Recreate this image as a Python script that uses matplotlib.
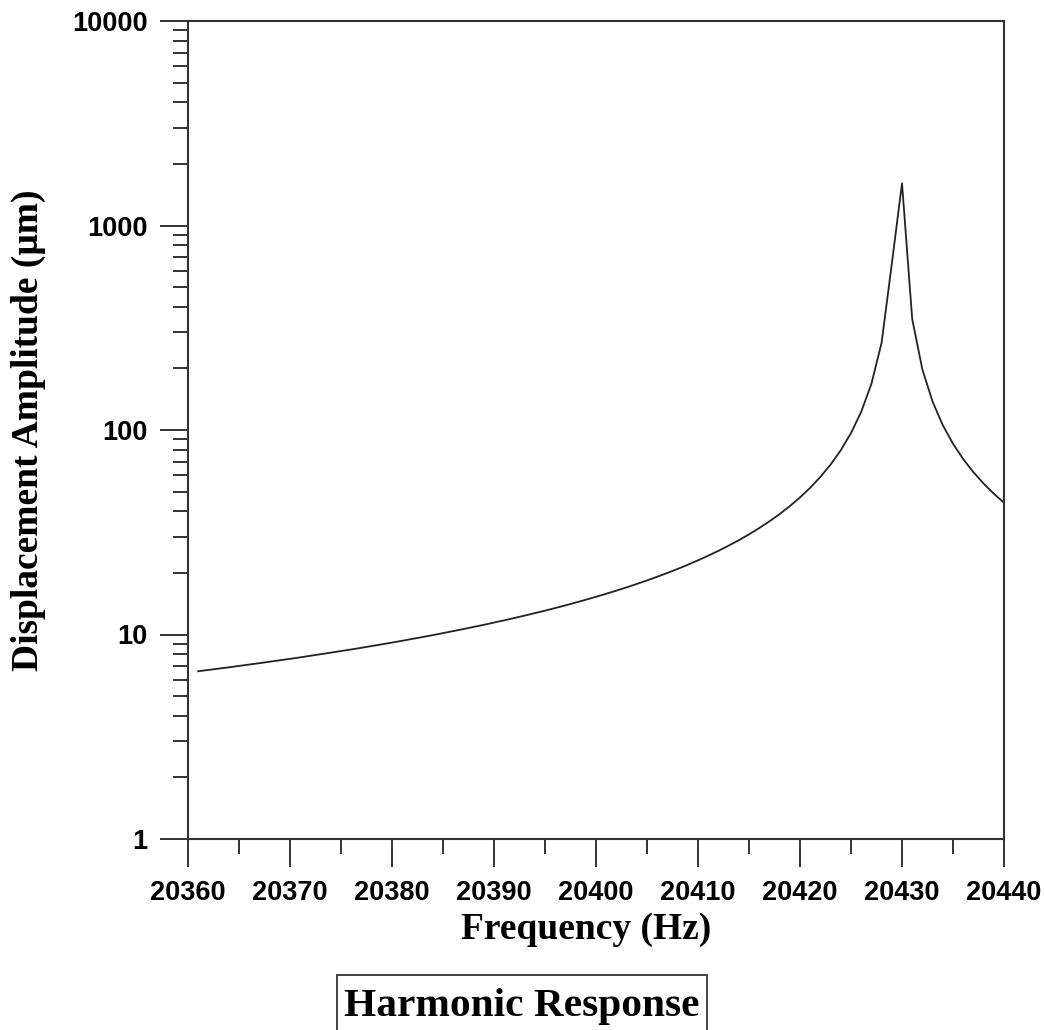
import matplotlib
matplotlib.use("Agg")
import matplotlib.pyplot as plt
from matplotlib.patches import Rectangle
from matplotlib.ticker import FixedLocator, MultipleLocator, LogLocator, NullFormatter

# Data (frequency in Hz, displacement amplitude in micrometres)
freq = list(range(20361, 20441))
amplitude = [
    6.61, 6.71, 6.81, 6.91, 7.02, 7.13, 7.24, 7.36, 7.48, 7.60,
    7.73, 7.87, 8.01, 8.15, 8.30, 8.45, 8.61, 8.78, 8.95, 9.13,
    9.32, 9.52, 9.72, 9.93, 10.16, 10.39, 10.63, 10.89, 11.15, 11.44,
    11.73, 12.04, 12.37, 12.72, 13.08, 13.47, 13.88, 14.32, 14.79, 15.29,
    15.82, 16.39, 17.00, 17.67, 18.38, 19.16, 20.00, 20.92, 21.93, 23.05,
    24.28, 25.65, 27.19, 28.92, 30.88, 33.14, 35.75, 38.80, 42.43, 46.80,
    52.18, 58.96, 67.76, 79.65, 96.60, 122.7, 168.1, 267.1, 648.6, 1608.0,
    349.2, 197.4, 137.6, 105.6, 85.66, 72.06, 62.19, 54.70, 48.82, 44.08,
]
x_ticks = [20360, 20370, 20380, 20390, 20400, 20410, 20420, 20430, 20440]
y_ticks = [1, 10, 100, 1000, 10000]
y_tick_labels = ["1", "10", "100", "1000", "10000"]
x_label = "Frequency (Hz)"
y_label = "Displacement Amplitude (\u03bcm)"
title = "Harmonic Response"

W, H = 1044, 1030
fig = plt.figure(figsize=(W / 100, H / 100), dpi=100)
fig.patch.set_facecolor("white")
ax = fig.add_axes([188 / W, 1 - 839 / H, (1004 - 188) / W, (839 - 21) / H])

ax.plot(freq, amplitude, color="#222222", linewidth=1.3)
ax.set_yscale("log")
ax.set_xlim(20360, 20440)
ax.set_ylim(1, 10000)

ax.xaxis.set_major_locator(FixedLocator(x_ticks))
ax.xaxis.set_minor_locator(MultipleLocator(5))
ax.set_xticklabels([str(v) for v in x_ticks])
ax.yaxis.set_major_locator(FixedLocator(y_ticks))
ax.yaxis.set_minor_locator(LogLocator(base=10, subs=range(2, 10), numticks=20))
ax.yaxis.set_minor_formatter(NullFormatter())
ax.set_yticklabels(y_tick_labels)

for lab in ax.get_xticklabels() + ax.get_yticklabels():
    lab.set_fontfamily("Liberation Sans")
    lab.set_fontweight("bold")
    lab.set_fontsize(19.5)

ax.tick_params(which="major", direction="out", length=20, width=1.4, color="#333333", pad=9)
ax.tick_params(which="minor", direction="out", length=10.5, width=1.4, color="#333333")
ax.tick_params(axis="x", which="major", pad=9.5)
for s in ax.spines.values():
    s.set_linewidth(1.5)
    s.set_color("#333333")

label_font = dict(family="Liberation Serif", weight="bold", size=27)
ax.set_xlabel(x_label, fontdict=label_font)
ax.xaxis.set_label_coords(0.488, -0.089)
ax.set_ylabel(y_label, fontdict=label_font)
ax.yaxis.set_label_coords(-0.174, 0.5)

# Title box at the bottom (partially cut by the figure edge)
fig.patches.append(Rectangle((336.7 / W, -10 / H), (706.7 - 336.7) / W, (H - 975 + 10) / H,
                             transform=fig.transFigure, fill=False, edgecolor="#333333",
                             linewidth=1.3))
fig.text(521.7 / W, 1 - 1016 / H, title, ha="center", va="baseline",
         family="Liberation Serif", weight="bold", size=29.8)

fig.savefig("out.png", dpi=100, facecolor="white")
